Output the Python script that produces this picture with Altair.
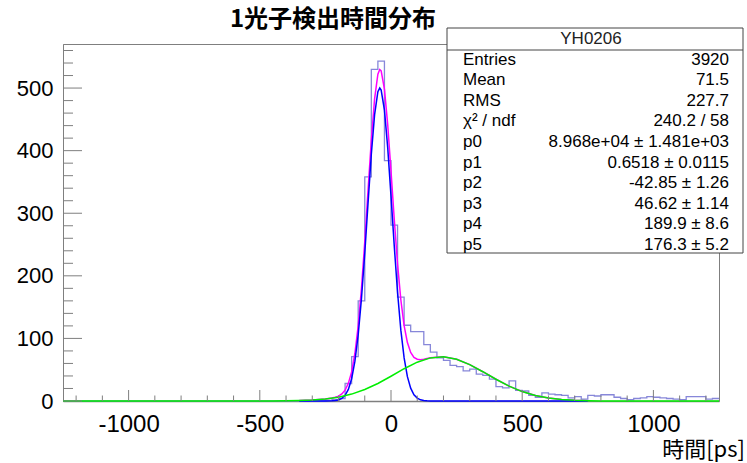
import altair as alt
import pandas as pd

# ---------------- data ----------------
BIN_LO = -1250
BIN_W = 25
COUNTS = [
    0, 0, 0, 0, 0, 0, 0, 0, 0, 0,
    0, 0, 0, 0, 0, 0, 0, 0, 0, 0,
    0, 0, 0, 0, 0, 0, 0, 0, 0, 0,
    0, 0, 0, 0, 0, 0, 0, 0, 0, 0,
    1, 2, 4, 28, 71, 160, 358, 530, 543, 384,
    281, 166, 121, 111, 111, 90, 78, 69, 65, 57,
    55, 48, 51, 43, 41, 35, 23, 21, 32, 17,
    16, 9, 6, 13, 11, 10, 9, 5, 7, 3,
    9, 8, 10, 10, 6, 4, 2, 4, 5, 7,
    6, 5, 4, 3, 2, 7, 7, 7, 3, 4,
]

# fitted curves
BLUE_X = [-350, -300, -250, -225, -212.5, -200, -187.5, -175, -162.5, -150, -137.5,
          -125, -112.5, -100, -87.5, -75, -62.5, -50, -42.85, -37.5, -25, -12.5,
          0, 12.5, 25, 37.5, 50, 62.5, 75, 87.5, 100, 112.5, 125, 137.5, 150, 175, 750]
BLUE_Y = [0, 0, 0.03, 0.24, 0.67, 1.70, 4.06, 9.0, 18.6, 35.6, 63.7,
          105.9, 163.8, 235.9, 316.1, 394.2, 457.5, 494.2, 500.0, 496.7, 464.7, 404.5,
          327.8, 247.1, 173.4, 113.2, 68.8, 38.9, 20.5, 10.0, 4.6, 1.9, 0.77, 0.3, 0.1, 0, 0]

MAG_X = [-350, -300, -250, -225, -212.5, -200, -187.5, -175, -162.5, -150, -137.5,
         -125, -112.5, -100, -87.5, -75, -62.5, -50, -42.85, -37.5, -25, -12.5,
         0, 12.5, 25, 37.5, 50, 62.5, 75, 87.5, 100, 112.5, 125, 137.5, 150,
         200, 250, 300, 350, 400, 450, 500, 550, 600, 650, 700, 750]
MAG_Y = [0.65, 1.49, 3.17, 4.67, 5.89, 7.82, 11.21, 17.3, 28.2, 46.6, 76.3,
         120.2, 180.0, 254.2, 336.6, 417.1, 482.9, 522.2, 529.6, 527.5, 498.3, 441.1,
         367.4, 289.7, 219.0, 161.8, 120.4, 93.3, 77.6, 69.7, 66.7, 66.1, 66.8, 67.9, 69.0,
         70.54, 66.67, 58.14, 46.78, 34.73, 23.80, 15.04, 8.77, 4.72, 2.34, 1.07, 0.45]

GREEN_X = [-1250, -600, -550, -500, -450, -400, -350, -300, -250, -200, -150, -100,
           -50, 0, 50, 100, 150, 200, 250, 300, 350, 400, 450, 500, 550, 600,
           650, 700, 750, 800, 850, 900, 950, 1250]
GREEN_Y = [0, 0, 0.01, 0.03, 0.10, 0.26, 0.65, 1.49, 3.14, 6.12, 11.02, 18.29,
           28.0, 39.55, 51.58, 62.05, 68.87, 70.54, 66.67, 58.14, 46.78, 34.73, 23.80, 15.04, 8.77, 4.72,
           2.34, 1.07, 0.45, 0.18, 0.06, 0.02, 0, 0]

X_LABELS = [-1000, -500, 0, 500, 1000]
X_MINOR = [-1200, -1100, -900, -800, -700, -600, -400, -300, -200, -100,
           100, 200, 300, 400, 600, 700, 800, 900, 1100, 1200]
Y_LABELS = [0, 100, 200, 300, 400, 500]
Y_MINOR = [20, 40, 60, 80, 120, 140, 160, 180, 220, 240, 260, 280,
           320, 340, 360, 380, 420, 440, 460, 480, 520, 540, 560]

TITLE = "1光子検出時間分布"
X_TITLE = "時間[ps]"
STATS_NAME = "YH0206"
STATS_LABELS = ["Entries", "Mean", "RMS", "χ² / ndf", "p0", "p1", "p2", "p3", "p4", "p5"]
STATS_VALUES = ["3920", "71.5", "227.7", "240.2 / 58", "8.968e+04 ± 1.481e+03",
                "0.6518 ± 0.0115", "-42.85 ± 1.26", "46.62 ± 1.14", "189.9 ± 8.6", "176.3 ± 5.2"]

# ---------------- tables ----------------
edges = [BIN_LO + BIN_W * i for i in range(len(COUNTS) + 1)]
hist_df = pd.DataFrame({"x": edges, "y": COUNTS + [COUNTS[-1]]})
blue_df = pd.DataFrame({"x": BLUE_X, "y": BLUE_Y})
mag_df = pd.DataFrame({"x": MAG_X, "y": MAG_Y})
green_df = pd.DataFrame({"x": GREEN_X, "y": GREEN_Y})

W, H = 656, 357
GRAY = "#7f7f7f"
FONT = "Liberation Sans"
CJK = "Noto Sans CJK JP"

xs = alt.Scale(domain=[-1250, 1250], nice=False, zero=False)
ys = alt.Scale(domain=[0, 570.4], nice=False, zero=False)

x_axis = alt.Axis(values=X_LABELS, labelExpr="'' + datum.value", tickSize=0,
                  labelFont=FONT, labelFontSize=24, labelColor="black", labelPadding=11,
                  domain=True, domainColor=GRAY, domainWidth=1.5, grid=False, title=None)
y_axis = alt.Axis(values=Y_LABELS, labelExpr="'' + datum.value", tickSize=0,
                  labelFont=FONT, labelFontSize=22, labelColor="black", labelPadding=10,
                  domain=True, domainColor=GRAY, domainWidth=1, grid=False, title=None)


def X(f="x"):
    return alt.X(f"{f}:Q", scale=xs, axis=x_axis)


def Y(f="y"):
    return alt.Y(f"{f}:Q", scale=ys, axis=y_axis)


layers = []

layers.append(alt.Chart(hist_df).mark_line(interpolate="step-after", color="#7272d2",
                                           strokeWidth=1.3, opacity=0.85)
              .encode(x=X(), y=Y()))
layers.append(alt.Chart(mag_df).mark_line(color="#ff00ff", strokeWidth=1.5).encode(x=X(), y=Y()))
layers.append(alt.Chart(blue_df).mark_line(color="#0000ff", strokeWidth=1.5).encode(x=X(), y=Y()))
layers.append(alt.Chart(green_df).mark_line(color="#00ee00", strokeWidth=1.5).encode(x=X(), y=Y()))

# inward ticks
layers.append(alt.Chart(pd.DataFrame({"y": Y_LABELS})).mark_rule(color=GRAY, strokeWidth=1)
              .encode(y=Y("y"), x=alt.value(0), x2=alt.value(19)))
layers.append(alt.Chart(pd.DataFrame({"y": Y_MINOR})).mark_rule(color=GRAY, strokeWidth=1)
              .encode(y=Y("y"), x=alt.value(0), x2=alt.value(10)))
layers.append(alt.Chart(pd.DataFrame({"x": X_LABELS})).mark_rule(color=GRAY, strokeWidth=1)
              .encode(x=X("x"), y=alt.value(H), y2=alt.value(H - 11)))
layers.append(alt.Chart(pd.DataFrame({"x": X_MINOR})).mark_rule(color=GRAY, strokeWidth=1)
              .encode(x=X("x"), y=alt.value(H), y2=alt.value(H - 5.5)))

# titles
layers.append(alt.Chart(pd.DataFrame({"t": [TITLE]}))
              .mark_text(font=CJK, fontSize=24, fontWeight="bold", align="center",
                         baseline="middle", color="black")
              .encode(text="t:N", x=alt.value(270), y=alt.value(-24)))
layers.append(alt.Chart(pd.DataFrame({"t": [X_TITLE]}))
              .mark_text(font=CJK, fontSize=22, align="right", baseline="alphabetic", color="black")
              .encode(text="t:N", x=alt.value(682), y=alt.value(H + 56)))

# stats box
layers.append(alt.Chart(pd.DataFrame({"a": [0]}))
              .mark_rect(fill="white", stroke="#444444", strokeWidth=1)
              .encode(x=alt.value(384), x2=alt.value(680), y=alt.value(-16), y2=alt.value(209)))
layers.append(alt.Chart(pd.DataFrame({"a": [0]}))
              .mark_rule(color="#444444", strokeWidth=1)
              .encode(x=alt.value(384), x2=alt.value(680), y=alt.value(6)))
layers.append(alt.Chart(pd.DataFrame({"t": [STATS_NAME]}))
              .mark_text(font=FONT, fontSize=17, align="center", baseline="middle", color="#222222")
              .encode(text="t:N", x=alt.value(528), y=alt.value(-5)))
for k, (lab, val) in enumerate(zip(STATS_LABELS, STATS_VALUES)):
    yk = 15.5 + 20.6 * k
    layers.append(alt.Chart(pd.DataFrame({"t": [lab]}))
                  .mark_text(font=FONT, fontSize=17, align="left", baseline="middle", color="black")
                  .encode(text="t:N", x=alt.value(400), y=alt.value(yk)))
    layers.append(alt.Chart(pd.DataFrame({"t": [val]}))
                  .mark_text(font=FONT, fontSize=17, align="right", baseline="middle", color="black")
                  .encode(text="t:N", x=alt.value(666), y=alt.value(yk)))

chart = (alt.layer(*layers)
         .properties(width=W, height=H,
                     padding={"left": 63, "top": 44, "right": 28, "bottom": 62},
                     autosize=alt.AutoSizeParams(type="none"),
                     background="white")
         .configure_view(stroke=GRAY, strokeWidth=1))

chart.save("out.html", embed_options={"renderer": "svg", "actions": False})
